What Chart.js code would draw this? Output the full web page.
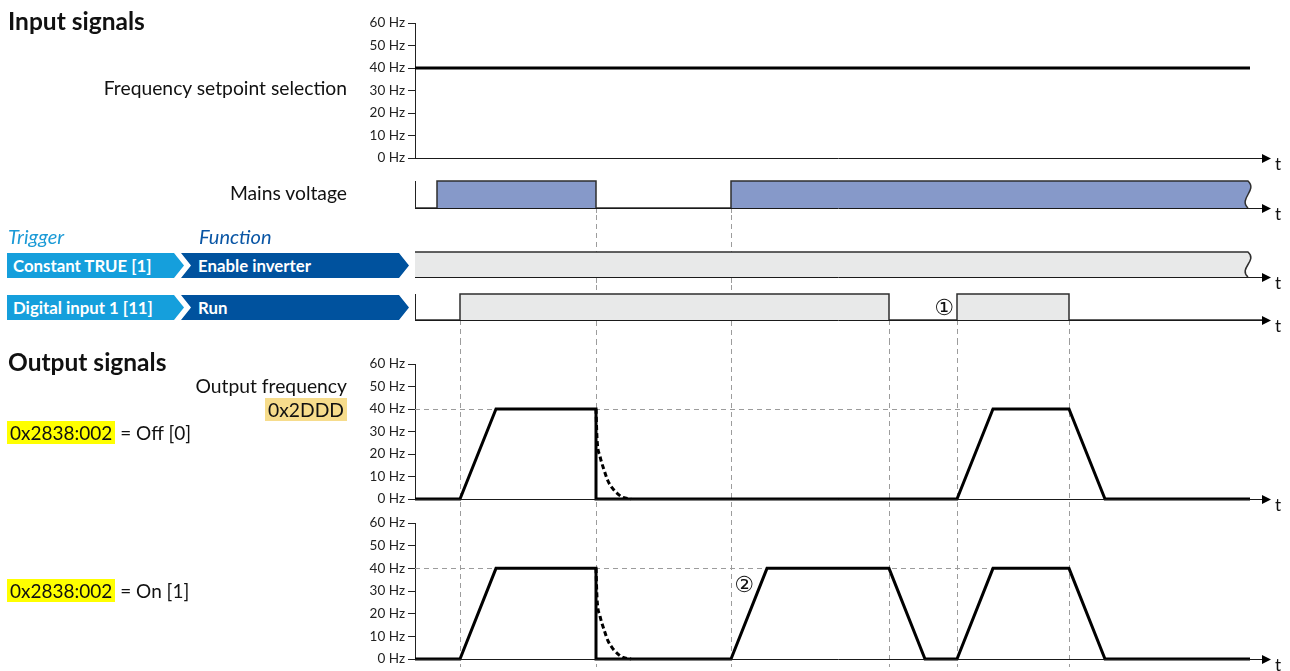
<!DOCTYPE html>
<html>
<head>
<meta charset="utf-8">
<script src="https://cdn.jsdelivr.net/npm/chart.js@4.4.1/dist/chart.umd.min.js"></script>
<style>
  body { margin: 0; background: #fff; width: 1290px; height: 671px; overflow: hidden; position: relative;
         font-family: Lato, "Open Sans", sans-serif; color: #111; }
  canvas { position: absolute; left: 0; }
  .lbl { position: absolute; white-space: nowrap; font-size: 19.3px; line-height: 20px; }
  .right { right: 943px; text-align: right; }
  .head { font-weight: bold; font-size: 24.5px; line-height: 26px; }
  .trig { color: #1b9ad6; font-style: italic; font-size: 20px; }
  .func { color: #0a56a5; font-style: italic; font-size: 20px; }
  .chev { position: absolute; height: 25px; line-height: 25px; color: #fff; font-weight: bold; font-size: 16.8px;
          padding-left: 6px; box-sizing: border-box; }
  .light { background: #159fdc; clip-path: polygon(0 0, calc(100% - 10px) 0, 100% 50%, calc(100% - 10px) 100%, 0 100%); }
  .dark { background: #00529e; padding-left: 17px;
          clip-path: polygon(0 0, calc(100% - 10px) 0, 100% 50%, calc(100% - 10px) 100%, 0 100%, 10px 50%); }
  .yel { background: #ffff00; padding: 0 3px; }
  .gold { background: #f6dc8c; padding: 0 3px; }
  .num { position: absolute; width: 30px; height: 30px; display: flex; align-items: center; justify-content: center;
         font-family: "DejaVu Sans", sans-serif; font-size: 22px; line-height: 22px; color: #111; }
</style>
</head>
<body>
<canvas id="cSet" width="1290" height="178" style="top:0"></canvas>
<canvas id="cMains" width="1290" height="52" style="top:170px"></canvas>
<canvas id="cEnable" width="1290" height="78" style="top:215px"></canvas>
<canvas id="cRun" width="1290" height="55" style="top:285px"></canvas>
<canvas id="cOff" width="1290" height="178" style="top:340px"></canvas>
<canvas id="cOn" width="1290" height="160" style="top:511px"></canvas>

<div class="lbl head" style="left:8px;top:8px">Input signals</div>
<div class="lbl right" style="top:78px">Frequency setpoint selection</div>
<div class="lbl right" style="top:183px">Mains voltage</div>
<div class="lbl trig" style="left:8px;top:226px">Trigger</div>
<div class="lbl func" style="left:199px;top:226px">Function</div>
<div class="chev light" style="left:7px;top:253px;width:177px">Constant TRUE [1]</div>
<div class="chev dark" style="left:181px;top:253px;width:228px">Enable inverter</div>
<div class="chev light" style="left:7px;top:295px;width:177px">Digital input 1 [11]</div>
<div class="chev dark" style="left:181px;top:295px;width:228px">Run</div>
<div class="lbl head" style="left:8px;top:349px">Output signals</div>
<div class="lbl right" style="top:376px">Output frequency</div>
<div class="lbl right" style="top:400px"><span class="gold">0x2DDD</span></div>
<div class="lbl" style="left:7px;top:423px;font-size:19px"><span class="yel">0x2838:002</span> = Off [0]</div>
<div class="lbl" style="left:7px;top:581px;font-size:19px"><span class="yel">0x2838:002</span> = On [1]</div>
<div class="num" style="left:929px;top:293px">①</div>
<div class="num" style="left:729px;top:570px">②</div>

<script>
// time axis (arbitrary units), frequencies in Hz
const timeMax = 84.7;
const freqTicks = [0, 10, 20, 30, 40, 50, 60];

const setpointTime = [0, 83.5];
const setpointHz = [40, 40];

const mainsTime = [0, 2.2, 18.1, 31.6, 83.0];
const mainsState = [0, 1, 0, 1, 1];
const mainsEnd = 83.3;

const enableTime = [0, 83.0];
const enableState = [1, 1];
const enableEnd = 83.3;

const runTime = [0, 4.5, 47.4, 54.2, 65.4, 84.7];
const runState = [0, 1, 0, 1, 0, 0];

const offTime = [0, 4.5, 8.1, 18.1, 18.1, 54.2, 57.8, 65.4, 69.0, 83.5];
const offHz = [0, 0, 40, 40, 0, 0, 40, 40, 0, 0];

const onTime = [0, 4.5, 8.1, 18.1, 18.1, 31.6, 35.2, 47.4, 51.0, 54.2, 57.8, 65.4, 69.0, 83.5];
const onHz = [0, 0, 40, 40, 0, 0, 40, 40, 0, 0, 40, 40, 0, 0];

// coasting motor after mains loss (dashed)
const coastTime = [18.1, 18.2, 18.5, 18.9, 19.3, 19.8, 20.3, 20.8, 21.6];
const coastHz = [40, 27, 19, 13, 8, 4.5, 2.2, 0.7, 0];

const mainsEdges = [18.1, 31.6];
const runEdges = [4.5, 47.4, 54.2, 65.4];
const refHz = 40;
const refEnd = 65.4;

function pts(xs, ys) { return xs.map((t, i) => ({ x: t, y: ys[i] })); }

const timing = {
  id: 'timing',
  beforeDatasetsDraw(chart, args, o) {
    const { ctx, chartArea: a, scales: { x, y } } = chart;
    ctx.save();
    ctx.strokeStyle = '#9c9c9c';
    ctx.lineWidth = 1;
    ctx.setLineDash([5, 4]);
    const end = o.guideEnd != null ? a.bottom + o.guideEnd : chart.height;
    const vline = (t, y0) => {
      const px = Math.round(x.getPixelForValue(t)) + 0.5;
      ctx.beginPath(); ctx.moveTo(px, y0); ctx.lineTo(px, end); ctx.stroke();
    };
    (o.fromTop || []).forEach(t => vline(t, 0));
    (o.fromAxis || []).forEach(t => vline(t, a.bottom));
    if (o.ref != null) {
      const py = Math.round(y.getPixelForValue(o.ref)) + 0.5;
      ctx.beginPath(); ctx.moveTo(a.left, py); ctx.lineTo(x.getPixelForValue(o.refEnd), py); ctx.stroke();
    }
    ctx.restore();
  },
  afterDatasetsDraw(chart, args, o) {
    const { ctx, chartArea: a, scales: { x } } = chart;
    ctx.save();
    if (o.wavy != null) {
      const xc = x.getPixelForValue(o.wavy), x0 = x.getPixelForValue(o.wavy - 0.3);
      const top = a.top, bot = a.bottom;
      const curve = () => ctx.bezierCurveTo(xc + 10, top + (bot - top) * 0.35, xc - 10, top + (bot - top) * 0.65, xc, bot);
      ctx.beginPath(); ctx.moveTo(x0, top); ctx.lineTo(xc, top); curve(); ctx.lineTo(x0, bot); ctx.closePath();
      ctx.fillStyle = o.fill; ctx.fill();
      ctx.beginPath(); ctx.moveTo(x0, top); ctx.lineTo(xc, top); curve();
      ctx.strokeStyle = '#2e2e2e'; ctx.lineWidth = 1.5; ctx.stroke();
    }
    // time axis with arrow
    const yb = Math.round(a.bottom) + 0.5;
    ctx.strokeStyle = '#1a1a1a'; ctx.lineWidth = 1;
    ctx.beginPath(); ctx.moveTo(a.left, yb); ctx.lineTo(a.right, yb); ctx.stroke();
    ctx.fillStyle = '#000';
    ctx.beginPath(); ctx.moveTo(a.right, yb - 4.5); ctx.lineTo(a.right + 9, yb); ctx.lineTo(a.right, yb + 4.5); ctx.closePath(); ctx.fill();
    ctx.font = '17px Lato, sans-serif';
    ctx.fillStyle = '#111';
    ctx.textBaseline = 'middle';
    ctx.fillText('t', a.right + 13, yb + 6);
    ctx.restore();
  }
};

function axisY(freq) {
  const base = {
    position: 'left',
    min: 0,
    max: freq ? 60 : 1,
    afterFit(s) { s.width = 415; },
    border: { display: true, color: '#222', width: 1 },
  };
  if (freq) {
    base.afterBuildTicks = s => { s.ticks = freqTicks.map(v => ({ value: v })); };
    base.ticks = { padding: 3, color: '#222', font: { family: 'Lato', size: 13.5 }, callback: v => v + ' Hz' };
    base.grid = { drawOnChartArea: false, tickLength: 7, color: '#222' };
  } else {
    base.ticks = { display: false };
    base.grid = { display: false };
  }
  return base;
}

function makeChart(id, datasets, freq, padTop, padBottom, opts) {
  return new Chart(document.getElementById(id), {
    type: 'line',
    data: { datasets },
    plugins: [timing],
    options: {
      responsive: false,
      animation: false,
      devicePixelRatio: 1,
      layout: { padding: { left: 0, right: 28, top: padTop, bottom: padBottom } },
      elements: { point: { radius: 0 }, line: { tension: 0 } },
      scales: {
        x: { type: 'linear', min: 0, max: timeMax, display: false },
        y: axisY(freq)
      },
      plugins: { legend: { display: false }, tooltip: { enabled: false }, timing: opts }
    }
  });
}

function freqLine(xs, ys) {
  return { data: pts(xs, ys), borderColor: '#000', borderWidth: 3, clip: false };
}
function coastLine() {
  return { data: pts(coastTime, coastHz), borderColor: '#000', borderWidth: 3, borderDash: [5, 3],
           cubicInterpolationMode: 'monotone', clip: false };
}
function stateLine(xs, ys, fill) {
  return { data: pts(xs, ys), stepped: 'before', borderColor: '#2e2e2e', borderWidth: 1.5,
           backgroundColor: fill, fill: 'origin', clip: false };
}

makeChart('cSet', [freqLine(setpointTime, setpointHz)], true, 23, 20, {});
makeChart('cMains', [stateLine(mainsTime, mainsState, '#8699c9')], false, 11, 14,
  { fromAxis: mainsEdges, wavy: mainsEnd, fill: '#8699c9', guideEnd: 7 });
makeChart('cEnable', [stateLine(enableTime, enableState, '#e8e9e9')], false, 37, 16,
  { fromTop: mainsEdges, wavy: enableEnd, fill: '#e8e9e9', guideEnd: 8 });
makeChart('cRun', [stateLine(runTime, runState, '#e8e9e9')], false, 9, 20,
  { fromTop: mainsEdges, fromAxis: runEdges });
makeChart('cOff', [coastLine(), freqLine(offTime, offHz)], true, 24, 19,
  { fromTop: mainsEdges.concat(runEdges), ref: refHz, refEnd: refEnd, guideEnd: 12 });
makeChart('cOn', [coastLine(), freqLine(onTime, onHz)], true, 12, 12,
  { fromTop: mainsEdges.concat(runEdges), ref: refHz, refEnd: refEnd, guideEnd: 8 });
</script>
</body>
</html>
